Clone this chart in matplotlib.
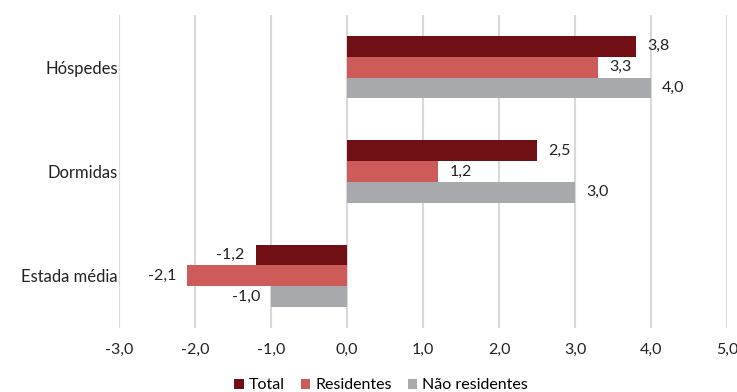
import numpy as np
import matplotlib.pyplot as plt

plt.rcParams["font.family"] = ["Lato", "DejaVu Sans"]

categories = ["Hóspedes", "Dormidas", "Estada média"]
series_names = ["Total", "Residentes", "Não residentes"]
total = [3.8, 2.5, -1.2]
residentes = [3.3, 1.2, -2.1]
nao_residentes = [4.0, 3.0, -1.0]
colors = ["#711014", "#CD5B5A", "#A8A9AC"]
xticks = [-3, -2, -1, 0, 1, 2, 3, 4, 5]


def fmt(v):
    return f"{v:.1f}".replace(".", ",")


def main():
    fig = plt.figure(figsize=(7.37, 3.92), dpi=100)
    ax = fig.add_axes([0.1615, 0.163, 0.825, 0.799])

    fs = 11.5
    values = [total, residentes, nao_residentes]
    y = np.arange(len(categories))
    h = 0.2
    for i, (name, vals, c) in enumerate(zip(series_names, values, colors)):
        pos = y + (i - 1) * h
        ax.barh(pos, vals, height=h, color=c, label=name, zorder=3)
        for p, v in zip(pos, vals):
            if v >= 0:
                ax.annotate(fmt(v), (v, p), xytext=(8, 0), textcoords="offset points",
                            ha="left", va="center", fontsize=fs, color="#222222")
            else:
                ax.annotate(fmt(v), (v, p), xytext=(-8, 0), textcoords="offset points",
                            ha="right", va="center", fontsize=fs, color="#222222")

    ax.set_xlim(-3, 5)
    ax.set_ylim(len(categories) - 0.5, -0.5)
    ax.set_xticks(xticks)
    ax.set_xticklabels([fmt(t) for t in xticks], fontsize=fs, color="#222222")
    ax.set_yticks(y)
    ax.set_yticklabels(categories, fontsize=12, color="#222222")
    ax.tick_params(length=0)
    ax.tick_params(axis="x", pad=11)
    ax.tick_params(axis="y", pad=1)
    ax.grid(axis="x", color="#D9D9D9", linewidth=1.5, zorder=0)
    for s in ax.spines.values():
        s.set_visible(False)

    ax.legend(loc="upper center", bbox_to_anchor=(0.431, -0.115), ncol=3, frameon=False,
              fontsize=fs, handlelength=0.6, handleheight=0.6, handletextpad=0.3,
              columnspacing=1.0)

    plt.savefig("out.png", dpi=100)


if __name__ == "__main__":
    main()
